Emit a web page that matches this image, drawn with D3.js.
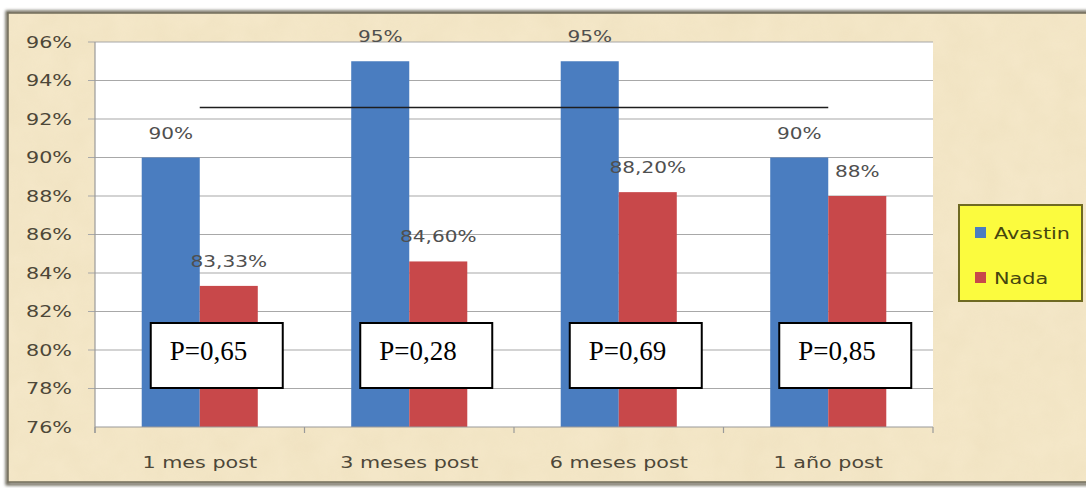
<!DOCTYPE html>
<html>
<head>
<meta charset="utf-8">
<script src="https://cdn.jsdelivr.net/npm/d3@7"></script>
<style>
  html, body { margin: 0; padding: 0; background: #ffffff; }
  svg { display: block; }
</style>
</head>
<body>
<svg id="chart" width="1086" height="488"></svg>
<script>
// ---- data ----
const categories = ["1 mes post", "3 meses post", "6 meses post", "1 año post"];
const seriesNames = ["Avastin", "Nada"];
const avastin = [90, 95, 95, 90];
const nada = [83.33, 84.6, 88.2, 88];
const avastinLabels = ["90%", "95%", "95%", "90%"];
const nadaLabels = ["83,33%", "84,60%", "88,20%", "88%"];
const pValues = ["P=0,65", "P=0,28", "P=0,69", "P=0,85"];
const yTicks = [76, 78, 80, 82, 84, 86, 88, 90, 92, 94, 96];
const bracketLevel = 92.6;

// ---- styles ----
const colors = ["#4a7dc0", "#c8484a"];
const stretch = 1.38;

const svg = d3.select("#chart");

// texture
const defs = svg.append("defs");
const f = defs.append("filter").attr("id", "paper").attr("x", 0).attr("y", 0).attr("width", "100%").attr("height", "100%");
f.append("feTurbulence").attr("type", "fractalNoise").attr("baseFrequency", "0.035").attr("numOctaves", 3).attr("seed", 4).attr("result", "noise");
f.append("feColorMatrix").attr("in", "noise").attr("type", "matrix")
  .attr("values", "0 0 0 0 0.78  0 0 0 0 0.66  0 0 0 0 0.42  0 0 0 0.55 -0.12").attr("result", "tint");
f.append("feComposite").attr("in", "tint").attr("in2", "SourceGraphic").attr("operator", "in");

const sh = defs.append("filter").attr("id", "shadow").attr("x", "-5%").attr("y", "-5%").attr("width", "110%").attr("height", "110%");
sh.append("feGaussianBlur").attr("stdDeviation", 1.5);

// frame
svg.append("rect").attr("x", 7).attr("y", 12).attr("width", 1090).attr("height", 472)
  .attr("fill", "none").attr("stroke", "#5f5a4a").attr("stroke-width", 3).attr("filter", "url(#shadow)");
svg.append("rect").attr("x", 8).attr("y", 13).attr("width", 1090).attr("height", 469)
  .attr("fill", "#f4e7c8");
svg.append("rect").attr("x", 8).attr("y", 13).attr("width", 1090).attr("height", 469)
  .attr("fill", "#f4e7c8").attr("filter", "url(#paper)").attr("opacity", 0.55);
svg.append("rect").attr("x", 8).attr("y", 13).attr("width", 1090).attr("height", 469)
  .attr("fill", "none").attr("stroke", "#726c5a").attr("stroke-width", 1.5);

// scales
const plot = { left: 95, right: 933, top: 42, bottom: 427 };
const x = d3.scaleBand().domain(categories).range([plot.left, plot.right]).padding(0);
const y = d3.scaleLinear().domain([76, 96]).range([plot.bottom, plot.top]);
const barW = x.bandwidth() * 0.277;
const sub = d3.scaleBand().domain(seriesNames).range([-barW, barW]);

// plot area
svg.append("rect").attr("x", plot.left).attr("y", plot.top)
  .attr("width", plot.right - plot.left).attr("height", plot.bottom - plot.top).attr("fill", "#ffffff");

// gridlines
svg.append("g").selectAll("line").data(yTicks.slice(1)).join("line")
  .attr("x1", plot.left - 7).attr("x2", plot.right)
  .attr("y1", d => y(d)).attr("y2", d => y(d))
  .attr("stroke", "#a8a8a8").attr("stroke-width", 1.2);

// y axis line
svg.append("line").attr("x1", plot.left).attr("x2", plot.left).attr("y1", plot.top).attr("y2", plot.bottom + 6)
  .attr("stroke", "#9a9a9a").attr("stroke-width", 1.2);

// y tick labels
svg.append("g").selectAll("text").data(yTicks).join("text")
  .attr("transform", d => `translate(72,${y(d) + 5.5}) scale(${stretch},1)`)
  .attr("text-anchor", "end")
  .attr("font-family", "DejaVu Sans, Verdana, sans-serif").attr("font-size", 15)
  .attr("fill", "#4d4738")
  .text(d => d + "%");

// bars
const rows = categories.map((c, i) => ({ c, vals: [avastin[i], nada[i]], labels: [avastinLabels[i], nadaLabels[i]] }));
const groups = svg.append("g").selectAll("g").data(rows).join("g")
  .attr("transform", d => `translate(${x(d.c) + x.bandwidth() / 2},0)`);
groups.selectAll("rect").data(d => d.vals.map((v, j) => ({ v, s: seriesNames[j], j }))).join("rect")
  .attr("x", d => sub(d.s)).attr("width", sub.bandwidth())
  .attr("y", d => y(d.v)).attr("height", d => y(76) - y(d.v))
  .attr("fill", d => colors[d.j]);

// x axis line and ticks
svg.append("line").attr("x1", plot.left).attr("x2", plot.right).attr("y1", plot.bottom).attr("y2", plot.bottom)
  .attr("stroke", "#9a9a9a").attr("stroke-width", 1.2);
svg.append("g").selectAll("line").data(d3.range(categories.length + 1)).join("line")
  .attr("x1", i => plot.left + i * x.step()).attr("x2", i => plot.left + i * x.step())
  .attr("y1", plot.bottom).attr("y2", plot.bottom + 6)
  .attr("stroke", "#9a9a9a").attr("stroke-width", 1.2);

// x labels
svg.append("g").selectAll("text").data(categories).join("text")
  .attr("transform", d => `translate(${x(d) + x.bandwidth() / 2},468) scale(${stretch},1)`)
  .attr("text-anchor", "middle")
  .attr("font-family", "DejaVu Sans, Verdana, sans-serif").attr("font-size", 15)
  .attr("fill", "#4d4738")
  .text(d => d);

// data labels
groups.selectAll("text").data(d => d.vals.map((v, j) => ({ v, s: seriesNames[j], lab: d.labels[j] }))).join("text")
  .attr("transform", d => `translate(${sub(d.s) + sub.bandwidth() / 2},${y(d.v) - 19}) scale(${stretch * 0.97},1)`)
  .attr("text-anchor", "middle")
  .attr("font-family", "DejaVu Sans, Verdana, sans-serif").attr("font-size", 15)
  .attr("fill", "#4f4f4f")
  .text(d => d.lab);

// bracket line
svg.append("line")
  .attr("x1", x(categories[0]) + x.bandwidth() / 2)
  .attr("x2", x(categories[categories.length - 1]) + x.bandwidth() / 2)
  .attr("y1", y(bracketLevel)).attr("y2", y(bracketLevel))
  .attr("stroke", "#1e1e1e").attr("stroke-width", 1.4);

// P-value boxes
const boxes = svg.append("g").selectAll("g").data(categories.map((c, i) => ({ c, p: pValues[i] }))).join("g")
  .attr("transform", d => `translate(${x(d.c) + x.bandwidth() / 2 - 49},323)`);
boxes.append("rect").attr("width", 132).attr("height", 65)
  .attr("fill", "#ffffff").attr("stroke", "#000000").attr("stroke-width", 2);
boxes.append("text").attr("x", 19).attr("y", 37)
  .attr("font-family", "Liberation Serif, Times New Roman, serif").attr("font-size", 27)
  .attr("fill", "#000000")
  .text(d => d.p);

// legend
const lg = svg.append("g").attr("transform", "translate(959,205)");
lg.append("rect").attr("width", 123).attr("height", 96)
  .attr("fill", "#fbfb3e").attr("stroke", "#6f6a22").attr("stroke-width", 2);
const items = lg.selectAll("g").data(seriesNames).join("g")
  .attr("transform", (d, i) => `translate(16,${22 + i * 45})`);
items.append("rect").attr("width", 11).attr("height", 11).attr("fill", (d, i) => colors[i]);
items.append("text")
  .attr("transform", `translate(19,12) scale(1.3,1)`)
  .attr("font-family", "DejaVu Sans, Verdana, sans-serif").attr("font-size", 16)
  .attr("fill", "#45450f")
  .text(d => d);
</script>
</body>
</html>
